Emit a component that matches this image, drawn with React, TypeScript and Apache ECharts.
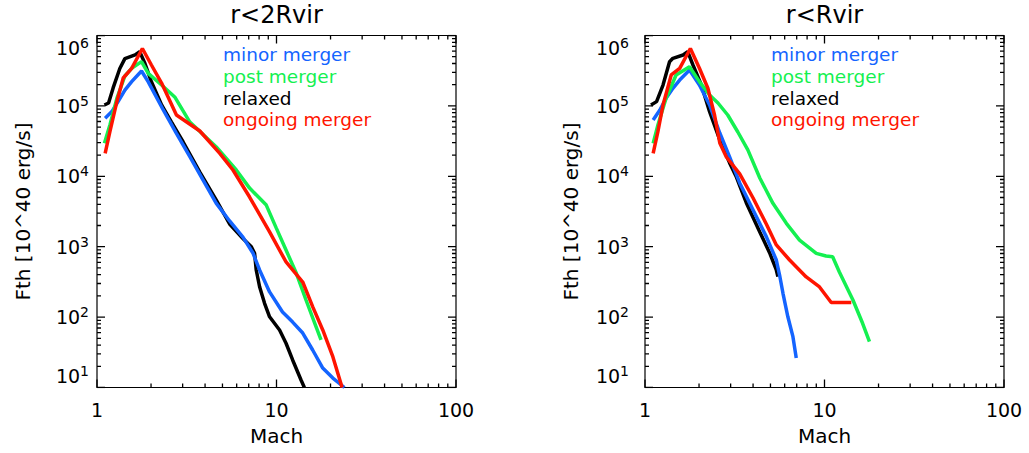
import React, { useEffect, useRef } from 'react';
import * as echarts from 'echarts';

const FONT = 'DejaVu Sans';
const TITLES = ['r<2Rvir', 'r<Rvir'];
const X_NAME = 'Mach';
const Y_NAME = 'Fth [10^40 erg/s]';
const LEGEND_NAMES = ['minor merger', 'post merger', 'relaxed', 'ongoing merger'];
const COLORS: Record<string, string> = {
  'minor merger': '#1464ff',
  'post merger': '#14f050',
  relaxed: '#000000',
  'ongoing merger': '#ff1400',
};
const DRAW_ORDER = ['relaxed', 'minor merger', 'post merger', 'ongoing merger'];

const X_MAJOR = [1, 10, 100];
const Y_MAJOR = [10, 100, 1000, 1e4, 1e5, 1e6];
const MINOR_FACTORS = [2, 3, 4, 5, 6, 7, 8, 9];

// r < 2 Rvir  [Mach, Fth]
const L_RELAXED: [number, number][] = [
  [1.10, 1.03e5], [1.16, 1.1e5], [1.23, 1.8e5], [1.34, 3.4e5], [1.43, 4.7e5], [1.63, 5.3e5],
  [1.73, 5.9e5], [1.85, 4.0e5], [2.01, 2.2e5], [2.29, 1.03e5], [2.60, 5.9e4], [3.02, 3.07e4],
  [3.74, 1.15e4], [4.62, 4.6e3], [5.48, 2.1e3], [6.5, 1.31e3], [7.24, 1.0e3], [7.55, 805],
  [7.71, 467], [8.05, 270], [8.58, 157], [9.15, 101], [10.4, 65.6], [11.3, 42.5], [12.3, 24.6],
  [13.7, 12.8], [14.3, 10],
];
const L_MINOR: [number, number][] = [
  [1.11, 6.7e4], [1.21, 8.3e4], [1.31, 1.15e5], [1.43, 1.68e5], [1.56, 2.21e5], [1.77, 3.13e5],
  [1.93, 2.19e5], [2.34, 8.75e4], [2.77, 4.08e4], [3.29, 1.9e4], [3.90, 8.85e3], [4.62, 4.13e3],
  [5.48, 2.32e3], [6.5, 1.37e3], [7.39, 815], [8.05, 467], [9.15, 228], [10.8, 118], [12.3, 85],
  [14.0, 59.4], [15.9, 34.1], [18.1, 18.9], [20.6, 13.6], [23.9, 10],
];
const L_POST: [number, number][] = [
  [1.10, 2.94e4], [1.18, 5.36e4], [1.29, 1.28e5], [1.43, 2.66e5], [1.56, 3.42e5], [1.77, 4.25e5],
  [1.93, 2.9e5], [2.29, 1.98e5], [2.71, 1.34e5], [3.29, 5.9e4], [3.98, 3.73e4], [4.62, 2.61e4],
  [5.97, 1.23e4], [7.08, 6.8e3], [8.77, 3.9e3], [9.96, 1.85e3], [11.3, 897], [12.9, 419],
  [14.6, 175], [16.6, 73], [17.7, 47.3],
];
const L_ONGOING: [number, number][] = [
  [1.11, 2.12e4], [1.18, 4.3e4], [1.29, 1.15e5], [1.40, 2.49e5], [1.56, 3.42e5], [1.79, 6.53e5],
  [2.01, 3.81e5], [2.29, 2.11e5], [2.77, 7.43e4], [3.74, 4.4e4], [4.83, 2.12e4], [5.72, 1.23e4],
  [7.08, 5.08e3], [9.15, 1.62e3], [11.3, 607], [14.0, 315], [15.9, 141], [18.1, 65.6],
  [20.6, 27.4], [23.2, 10],
];

// r < Rvir  [Mach, Fth]
const R_RELAXED: [number, number][] = [
  [1.08, 1.03e5], [1.16, 1.15e5], [1.26, 1.98e5], [1.37, 4.25e5], [1.43, 4.74e5], [1.63, 5.28e5],
  [1.73, 5.89e5], [1.85, 3.81e5], [2.06, 1.98e5], [2.29, 8.28e4], [2.61, 3.28e4], [2.96, 1.55e4],
  [3.23, 9.77e3], [3.67, 4.18e3], [4.36, 1.62e3], [4.95, 815], [5.39, 467], [5.50, 375],
];
const R_MINOR: [number, number][] = [
  [1.11, 6.31e4], [1.21, 8.75e4], [1.31, 1.28e5], [1.43, 1.78e5], [1.56, 2.33e5], [1.77, 3.24e5],
  [2.01, 1.98e5], [2.29, 1.03e5], [2.61, 4.12e4], [2.96, 1.88e4], [3.37, 8.04e3], [4.0, 3.32e3],
  [4.74, 1.39e3], [5.39, 647], [5.62, 396], [5.87, 218], [6.25, 101], [6.67, 52.7], [6.96, 26.2],
];
const R_POST: [number, number][] = [
  [1.11, 2.94e4], [1.18, 5.36e4], [1.31, 1.28e5], [1.49, 2.75e5], [1.77, 3.6e5], [2.01, 2.21e5],
  [2.29, 1.43e5], [2.55, 1.1e5], [2.89, 7.43e4], [3.29, 4.26e4], [3.74, 2.37e4], [4.36, 9.46e3],
  [5.16, 4.13e3], [6.13, 2.15e3], [7.26, 1.24e3], [9.0, 805], [10.2, 738], [11.1, 721],
  [12.1, 438], [14.4, 175], [16.3, 81.7], [17.8, 44.8],
];
const R_ONGOING: [number, number][] = [
  [1.11, 2.12e4], [1.18, 4.3e4], [1.26, 1.03e5], [1.40, 2.75e5], [1.56, 3.42e5], [1.79, 6.53e5],
  [2.01, 3.42e5], [2.24, 1.78e5], [2.44, 7.43e4], [2.61, 2.97e4], [2.84, 1.88e4], [3.37, 1.08e4],
  [4.0, 4.92e3], [4.74, 2.1e3], [5.39, 1.06e3], [6.39, 647], [7.91, 372], [9.38, 268],
  [10.9, 161], [14.1, 161],
];

const PANELS = [
  { relaxed: L_RELAXED, 'minor merger': L_MINOR, 'post merger': L_POST, 'ongoing merger': L_ONGOING },
  { relaxed: R_RELAXED, 'minor merger': R_MINOR, 'post merger': R_POST, 'ongoing merger': R_ONGOING },
] as Record<string, [number, number][]>[];

const GRID_LEFT = [97, 645];
const GRID_W = 359;
const GRID_TOP = 35.5;
const GRID_H = 352;
const LABEL_MARGIN = [8, 16];
const MAJOR_LEN = 8;
const MINOR_LEN = 4;

const minorOf = (majors: number[]) =>
  majors.slice(0, -1).flatMap((d) => MINOR_FACTORS.map((f) => f * d));

// Each tick is a two-point segment in data space; pixel length -> log-decade fraction of the grid.
function buildTickSegments(): number[][][] {
  const xMin = X_MAJOR[0], xMax = X_MAJOR[X_MAJOR.length - 1];
  const yMin = Y_MAJOR[0], yMax = Y_MAJOR[Y_MAJOR.length - 1];
  const fx = (len: number) => Math.pow(10, (len * Math.log10(xMax / xMin)) / GRID_W);
  const fy = (len: number) => Math.pow(10, (len * Math.log10(yMax / yMin)) / GRID_H);
  const segs: number[][][] = [];
  const xt = X_MAJOR.map((v) => [v, MAJOR_LEN]).concat(minorOf(X_MAJOR).map((v) => [v, MINOR_LEN]));
  const yt = Y_MAJOR.map((v) => [v, MAJOR_LEN]).concat(minorOf(Y_MAJOR).map((v) => [v, MINOR_LEN]));
  xt.forEach(([v, len]) => {
    segs.push([[v, yMin], [v, yMin * fy(len)]]);
    segs.push([[v, yMax], [v, yMax / fy(len)]]);
  });
  yt.forEach(([v, len]) => {
    segs.push([[xMin, v], [xMin * fx(len), v]]);
    segs.push([[xMax, v], [xMax / fx(len), v]]);
  });
  return segs;
}

export default function App() {
  const ref = useRef<HTMLDivElement>(null);
  useEffect(() => {
    if (!ref.current) return;
    const chart = echarts.init(ref.current, undefined, { renderer: 'svg' });
    const segs = buildTickSegments();
    const series: any[] = [];
    [0, 1].forEach((i) => {
      DRAW_ORDER.forEach((name) => {
        series.push({
          type: 'line', name, xAxisIndex: i, yAxisIndex: i,
          data: PANELS[i][name], showSymbol: false, symbol: 'none',
          lineStyle: { color: COLORS[name], width: 3.5 }, itemStyle: { color: COLORS[name] },
          z: 3,
        });
      });
      segs.forEach((s) => {
        series.push({
          type: 'line', name: 'tick', xAxisIndex: i, yAxisIndex: i,
          data: s, showSymbol: false, symbol: 'none',
          lineStyle: { color: '#000', width: 1.3 }, itemStyle: { color: '#000' },
        });
      });
    });

    const option: any = {
      animation: false,
      backgroundColor: '#fff',
      textStyle: { fontFamily: FONT },
      title: [0, 1].map((i) => ({
        text: TITLES[i], left: GRID_LEFT[i] + GRID_W / 2, top: 3, textAlign: 'center', padding: 0,
        textStyle: { fontSize: 24, fontWeight: 'normal', color: '#000', fontFamily: FONT },
      })),
      legend: [0, 1].map((i) => ({
        orient: 'vertical', left: GRID_LEFT[i] + 121, top: 44, padding: 0, itemGap: 0,
        itemWidth: 0, itemHeight: 0, icon: 'rect', selectedMode: false,
        data: LEGEND_NAMES.map((n) => ({ name: n, textStyle: { color: COLORS[n] } })),
        textStyle: { fontSize: 18.5, lineHeight: 21.6, fontFamily: FONT },
      })),
      grid: [0, 1].map((i) => ({
        left: GRID_LEFT[i], top: GRID_TOP, width: GRID_W, height: GRID_H,
        show: true, borderColor: '#000', borderWidth: 1.2, backgroundColor: 'transparent',
      })),
      xAxis: [0, 1].map((i) => ({
        type: 'log', logBase: 10, gridIndex: i, min: X_MAJOR[0], max: X_MAJOR[X_MAJOR.length - 1],
        axisLine: { show: false }, axisTick: { show: false }, splitLine: { show: false },
        axisLabel: { margin: 13, fontSize: 19, color: '#000', fontFamily: FONT, formatter: (v: number) => String(Math.round(v)) },
        name: X_NAME, nameLocation: 'middle', nameGap: 38,
        nameTextStyle: { fontSize: 20, color: '#000', fontFamily: FONT },
      })),
      yAxis: [0, 1].map((i) => ({
        type: 'log', logBase: 10, gridIndex: i, min: Y_MAJOR[0], max: Y_MAJOR[Y_MAJOR.length - 1],
        axisLine: { show: false }, axisTick: { show: false }, splitLine: { show: false },
        axisLabel: {
          margin: LABEL_MARGIN[i], color: '#000', fontFamily: FONT,
          verticalAlignMaxLabel: 'top', verticalAlignMinLabel: 'bottom',
          formatter: (v: number) => `{b|10}{e|${Math.round(Math.log10(v))}}`,
          rich: {
            b: { fontSize: 19, lineHeight: 24, color: '#000', fontFamily: FONT },
            e: { fontSize: 14, lineHeight: 14, padding: [0, 0, 10, 0], color: '#000', fontFamily: FONT },
          },
        },
        name: Y_NAME, nameLocation: 'middle', nameGap: 64,
        nameTextStyle: { fontSize: 20, color: '#000', fontFamily: FONT },
      })),
      series,
    };
    chart.setOption(option);
    return () => chart.dispose();
  }, []);
  return (
    <div
      ref={ref}
      style={{ position: 'absolute', left: 0, top: 0, width: 1029, height: 453, background: '#fff' }}
    />
  );
}
